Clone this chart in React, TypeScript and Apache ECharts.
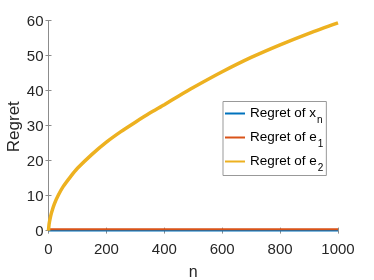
import React, { useEffect, useRef } from "react";
import * as echarts from "echarts";

const nValues = [0, 2, 5, 10, 20, 35, 50, 75, 100, 150, 200, 250, 300, 350, 400, 450, 500, 600, 700, 800, 900, 1000];
const regretX = [0, 0, 0, 0, 0, 0, 0, 0, 0, 0, 0, 0, 0, 0, 0, 0, 0, 0, 0, 0, 0, 0];
const regretE1 = [0.4, 0.4, 0.4, 0.4, 0.4, 0.4, 0.4, 0.4, 0.4, 0.4, 0.4, 0.4, 0.4, 0.4, 0.4, 0.4, 0.4, 0.4, 0.4, 0.4, 0.4, 0.4];
const regretE2 = [0, 1.8, 3.2, 5.0, 7.6, 10.3, 12.5, 15.3, 17.8, 21.8, 25.3, 28.3, 31.0, 33.6, 36.0, 38.5, 40.9, 45.4, 49.5, 53.1, 56.4, 59.4];
const yTicks = [0, 10, 20, 30, 40, 50, 60];
const seriesNames = ["Regret of x_n", "Regret of e_1", "Regret of e_2"];
const legendBase: Record<string, string> = { "Regret of x_n": "x", "Regret of e_1": "e", "Regret of e_2": "e" };
const legendSub: Record<string, string> = { "Regret of x_n": "n", "Regret of e_1": "1", "Regret of e_2": "2" };
const colors = ["#0072BD", "#D95319", "#EDB120"];

const FONT = "'Liberation Sans', Arial, Helvetica, sans-serif";
const AXIS = "#8c8c8c";
const TXT = "#262626";

export default function App() {
  const ref = useRef<HTMLDivElement>(null);
  useEffect(() => {
    if (!ref.current) return;
    const chart = echarts.init(ref.current, undefined, { renderer: "svg" });
    const pair = (ys: number[]) => nValues.map((n, i) => [n, ys[i]]);
    const allValues = [regretX, regretE1, regretE2];
    chart.setOption({
      animation: false,
      textStyle: { fontFamily: FONT },
      grid: { left: 48.5, right: 36, top: 20.7, bottom: 47.3, containLabel: false, outerBoundsMode: "none" },
      xAxis: [
        {
          type: "value", min: 0, max: 1000, interval: 200,
          name: "n", nameLocation: "middle", nameGap: 31,
          nameTextStyle: { fontSize: 16, color: TXT, fontFamily: FONT },
          axisLine: { show: true, lineStyle: { color: AXIS, width: 1 } },
          axisTick: { show: true, inside: true, length: 3, lineStyle: { color: AXIS } },
          axisLabel: { fontSize: 15, color: TXT, margin: 8, fontFamily: FONT, formatter: (v: number) => String(v) },
          splitLine: { show: false },
        },
        {
          type: "value", min: 0, max: 1000, interval: 200, position: "top",
          axisLine: { show: true, lineStyle: { color: AXIS, width: 1 } },
          axisTick: { show: true, inside: true, length: 3, lineStyle: { color: AXIS } },
          axisLabel: { show: false },
          splitLine: { show: false },
        },
      ],
      yAxis: [
        {
          type: "value", min: -0.6, max: 60,
          name: "Regret", nameLocation: "middle", nameGap: 35, nameMoveOverlap: false,
          nameTextStyle: { fontSize: 17, color: TXT, fontFamily: FONT, verticalAlign: "middle" },
          axisLine: { show: true, lineStyle: { color: AXIS, width: 1 } },
          axisTick: { show: true, inside: true, length: 3, lineStyle: { color: AXIS }, customValues: yTicks },
          axisLabel: { fontSize: 15, color: TXT, margin: 5, fontFamily: FONT, customValues: yTicks },
          splitLine: { show: false },
        },
        {
          type: "value", min: -0.6, max: 60, position: "right",
          axisLine: { show: true, lineStyle: { color: AXIS, width: 1 } },
          axisTick: { show: true, inside: true, length: 3, lineStyle: { color: AXIS }, customValues: yTicks },
          axisLabel: { show: false, customValues: yTicks },
          splitLine: { show: false },
        },
      ],
      legend: {
        orient: "vertical",
        left: 223, top: 101.5,
        padding: [4, 3, 3, 2],
        itemGap: 5,
        itemWidth: 20, itemHeight: 2,
        icon: "rect",
        backgroundColor: "#ffffff",
        borderColor: "#999999", borderWidth: 1, borderRadius: 0,
        data: seriesNames.map((name) => ({ name, icon: "rect" })),
        formatter: (name: string) => `{m|Regret of ${legendBase[name]}}{s|${legendSub[name]}}`,
        textStyle: {
          fontFamily: FONT, color: "#000",
          rich: {
            m: { fontSize: 13.5, lineHeight: 16, fontFamily: FONT, color: "#000", verticalAlign: "top" },
            s: { fontSize: 10, lineHeight: 11, fontFamily: FONT, color: "#000", padding: [9, 0, 0, 1], verticalAlign: "top" },
          },
        },
      },
      series: seriesNames.map((name, i) => ({
        name,
        type: "line",
        data: pair(allValues[i]),
        symbol: "none",
        smooth: i === 2 ? 0.25 : false,
        color: colors[i],
        lineStyle: { color: colors[i], width: i === 2 ? 3.5 : 2 },
        z: 2 + i,
      })),
    });
    return () => chart.dispose();
  }, []);
  return <div ref={ref} style={{ position: "fixed", left: 0, top: 0, width: 374, height: 280 }} />;
}
